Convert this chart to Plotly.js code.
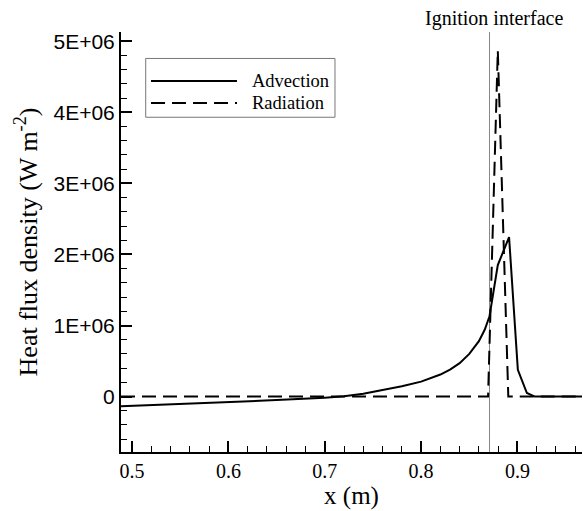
<!DOCTYPE html>
<html>
<head>
<meta charset="utf-8">
<script src="https://cdn.plot.ly/plotly-3.0.1.min.js"></script>
<style>html,body{margin:0;padding:0;background:#fff;}#chart{width:583px;height:511px;}</style>
</head>
<body>
<div id="chart"></div>
<script>
// Advection heat flux (W m^-2)
const advX = [0.4885, 0.55, 0.60, 0.65, 0.70, 0.72, 0.74, 0.76, 0.78, 0.80, 0.82, 0.83, 0.84, 0.85, 0.86, 0.866, 0.871, 0.8796, 0.8913, 0.9004, 0.9098, 0.918, 0.967];
const advY = [-0.135e6, -0.105e6, -0.08e6, -0.05e6, -0.015e6, 0.005e6, 0.04e6, 0.09e6, 0.145e6, 0.21e6, 0.31e6, 0.38e6, 0.47e6, 0.60e6, 0.78e6, 0.94e6, 1.13e6, 1.85e6, 2.245e6, 0.376e6, 0.05e6, 0.0, 0.0];
// Radiation heat flux (W m^-2)
const radX = [0.4885, 0.8695, 0.8796, 0.8905, 0.967];
const radY = [0, 0, 4.87e6, 0, 0];
// Ignition interface position (m)
const ignitionX = 0.871;
// Tick labels
const yTickVals = [0, 1e6, 2e6, 3e6, 4e6, 5e6];
const yTickText = ['0', '1E+06', '2E+06', '3E+06', '4E+06', '5E+06'];
const xTickVals = [0.5, 0.6, 0.7, 0.8, 0.9];
const xTickText = ['0.5', '0.6', '0.7', '0.8', '0.9'];
const seriesNames = ['Advection', 'Radiation'];
const seriesDash = ['solid', '14px,7px'];

const serif = "'Liberation Serif', 'Times New Roman', serif";
const sans = "'Liberation Sans', Arial, sans-serif";

const traces = [
  {x: advX, y: advY, type: 'scatter', mode: 'lines', name: seriesNames[0],
   line: {color: '#000', width: 2, dash: seriesDash[0]}},
  {x: radX, y: radY, type: 'scatter', mode: 'lines', name: seriesNames[1],
   line: {color: '#000', width: 2, dash: seriesDash[1]}}
];

// Legend drawn as a framed key (paper coordinates)
const legendRows = [0.8833, 0.831];
const legendShapes = [
  {type: 'rect', xref: 'paper', yref: 'paper', x0: 0.0536, x1: 0.4642, y0: 0.797, y1: 0.937,
   line: {color: '#777', width: 1}, fillcolor: '#fff', layer: 'above'}
];
const legendNotes = [];
seriesNames.forEach((n, i) => {
  legendShapes.push({type: 'line', xref: 'paper', yref: 'paper', x0: 0.0651, x1: 0.2516,
    y0: legendRows[i], y1: legendRows[i], line: {color: '#000', width: 2, dash: seriesDash[i]}, layer: 'above'});
  legendNotes.push({text: n, xref: 'paper', yref: 'paper', x: 0.2798, y: legendRows[i],
    xanchor: 'left', yanchor: 'middle', showarrow: false,
    font: {family: serif, size: 18.5, color: '#000'}});
});

const layout = {
  width: 583, height: 511,
  margin: {l: 121, r: 1, t: 32, b: 59},
  paper_bgcolor: '#fff', plot_bgcolor: '#fff',
  showlegend: false,
  xaxis: {
    range: [0.4885, 0.967],
    showgrid: false, zeroline: false,
    showline: true, linecolor: '#000', linewidth: 2, mirror: false,
    ticks: 'inside', ticklen: 11, tickwidth: 2, tickcolor: '#000',
    tickmode: 'array', tickvals: xTickVals, ticktext: xTickText,
    tickfont: {family: serif, size: 20, color: '#000'},
    minor: {tickmode: 'linear', tick0: 0.5, dtick: 0.02, ticks: 'inside', ticklen: 6, tickwidth: 1, tickcolor: '#000', showgrid: false},
    title: {text: 'x (m)', font: {family: serif, size: 25, color: '#000'}, standoff: 3}
  },
  yaxis: {
    range: [-0.78e6, 5.13e6],
    showgrid: false, zeroline: false,
    showline: true, linecolor: '#000', linewidth: 2, mirror: false,
    ticks: 'inside', ticklen: 11, tickwidth: 2, tickcolor: '#000',
    tickmode: 'array', tickvals: yTickVals, ticktext: yTickText,
    tickfont: {family: sans, size: 21, color: '#000'},
    minor: {tickmode: 'linear', tick0: 0, dtick: 2e5, ticks: 'inside', ticklen: 6, tickwidth: 1, tickcolor: '#000', showgrid: false},
    title: {text: 'Heat flux density (W m<sup>-2</sup>)', font: {family: serif, size: 26, color: '#000'}, standoff: 8}
  },
  shapes: [
    {type: 'line', xref: 'x', yref: 'paper', x0: ignitionX, x1: ignitionX, y0: 0, y1: 1,
     line: {color: '#888', width: 1}, layer: 'below'}
  ].concat(legendShapes),
  annotations: [
    {text: 'Ignition interface', xref: 'x', yref: 'paper', x: 0.8755, y: 1, yshift: 14,
     xanchor: 'center', yanchor: 'middle', showarrow: false,
     font: {family: serif, size: 20, color: '#000'}}
  ].concat(legendNotes)
};

Plotly.newPlot('chart', traces, layout, {displayModeBar: false, staticPlot: true});
</script>
</body>
</html>
